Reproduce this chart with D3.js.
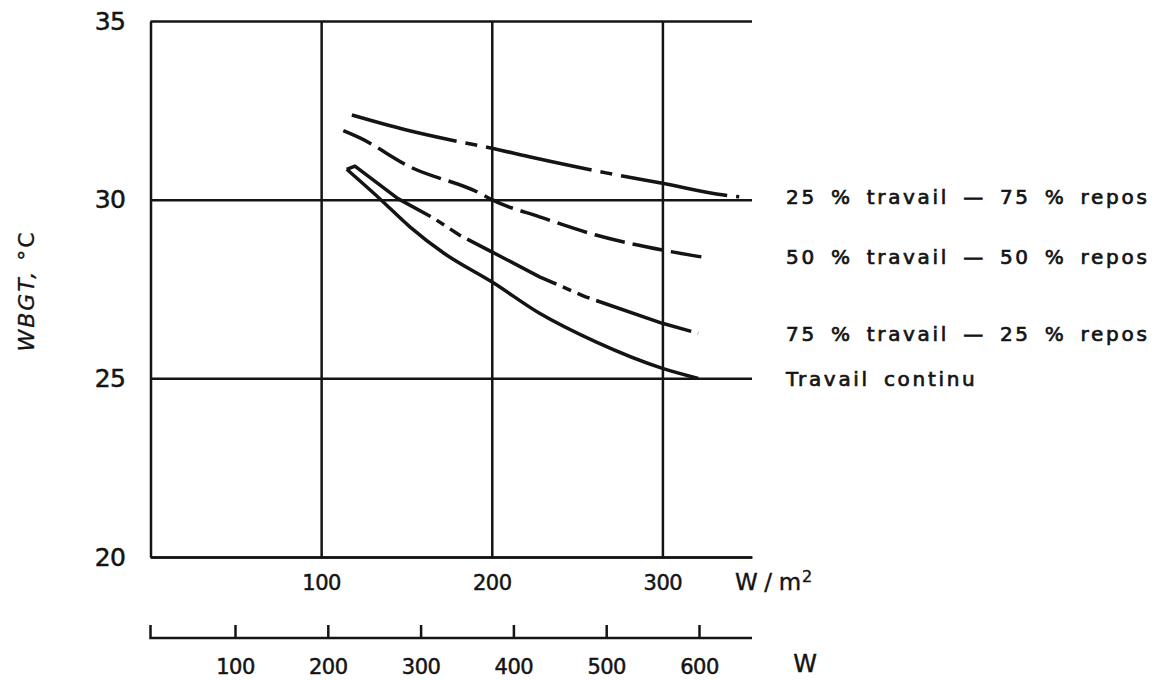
<!DOCTYPE html>
<html>
<head>
<meta charset="utf-8">
<script src="https://cdn.jsdelivr.net/npm/d3@7"></script>
<style>
  body { margin: 0; background: #fff; }
  text { font-family: "DejaVu Sans", sans-serif; fill: #141414; }
</style>
</head>
<body>
<script>
// tick values
var wm2Ticks = [100, 200, 300];
var wattTicks = [100, 200, 300, 400, 500, 600];
var tempTicks = [20, 25, 30, 35];

// series: [W/m2, WBGT degC]
var work25 = [[118, 32.37], [150, 31.95], [178, 31.65], [200, 31.44], [222, 31.2], [267, 30.75], [300, 30.46], [336, 30.13], [345, 30.08]];
var work50 = [[113, 31.93], [123, 31.72], [152, 30.92], [193, 30.18], [200, 30.0], [228, 29.52], [261, 29.01], [300, 28.59], [324, 28.39]];
var work75 = [[115, 30.85], [119.8, 30.94], [145, 30.03], [166, 29.48], [181, 29.01], [200, 28.54], [228, 27.84], [255, 27.28], [300, 26.54], [321, 26.26]];
var workContinuous = [[115, 30.85], [134.5, 30.02], [152, 29.24], [172, 28.5], [200, 27.7], [228, 26.82], [261, 26.02], [300, 25.28], [321, 25.0]];

var seriesLabels = ["25 % travail \u2014 75 % repos", "50 % travail \u2014 50 % repos",
    "75 % travail \u2014 25 % repos", "Travail continu"];

var svgWidth = 1156;
var svgHeight = 680;

var svg = d3.select("body")
    .append("svg")
    .attr("width", svgWidth)
    .attr("height", svgHeight);

svg.append("rect").attr("width", svgWidth).attr("height", svgHeight).attr("fill", "#fff");

// scales in page pixels
var xScale = d3.scaleLinear().domain([0, 352.5]).range([150.5, 752]);
var yScale = d3.scaleLinear().domain([20, 35]).range([557, 21]);
var wattScale = d3.scaleLinear().domain([100, 600]).range([235, 699]);

var ink = "#141414";

// W/m2 axis + vertical grid
var xAxis = d3.axisBottom(xScale)
    .tickValues(wm2Ticks)
    .tickSizeInner(-(yScale(20) - yScale(35)))
    .tickSizeOuter(0)
    .tickPadding(18);

var gx = svg.append("g")
    .attr("transform", `translate(0, ${yScale(20)})`)
    .call(xAxis);

// temperature axis + horizontal grid
var yAxis = d3.axisLeft(yScale)
    .tickValues(tempTicks)
    .tickSizeInner(-(xScale(352.5) - xScale(0)))
    .tickSizeOuter(0)
    .tickPadding(25);

var gy = svg.append("g")
    .attr("transform", `translate(${xScale(0)}, 0)`)
    .call(yAxis);

// W axis
var wAxis = d3.axisBottom(wattScale)
    .tickValues(wattTicks)
    .tickSizeInner(-13)
    .tickSizeOuter(0)
    .tickPadding(21);

var gw = svg.append("g")
    .attr("transform", "translate(0, 638)")
    .call(wAxis);

// stretch the W axis line to the plot width, with the upturned left end
gw.select(".domain").attr("d", `M${xScale(0)},-13V0H${xScale(352.5)}`);

[gx, gy, gw].forEach(function (g) {
    g.selectAll("path, line")
        .attr("stroke", ink)
        .attr("stroke-width", 2.5)
        .attr("fill", "none");
    g.selectAll("text")
        .attr("fill", ink)
        .attr("stroke", ink)
        .attr("stroke-width", 0.5)
        .attr("font-family", "DejaVu Sans, sans-serif");
});

gx.selectAll("text").attr("font-size", 21).attr("letter-spacing", -0.5);
gy.selectAll("text").attr("font-size", 25).attr("letter-spacing", -0.5);
gw.selectAll("text").attr("font-size", 21).attr("letter-spacing", -0.5);

// axis units
var unit = svg.append("text")
    .attr("x", 735)
    .attr("y", 590)
    .attr("font-size", 23)
    .attr("letter-spacing", 1)
    .attr("stroke", ink)
    .attr("stroke-width", 0.4)
    .text("W\u2009/\u2009m");
unit.append("tspan")
    .attr("dy", -8)
    .attr("font-size", 16)
    .text("2");

svg.append("text")
    .attr("x", 805)
    .attr("y", 672)
    .attr("text-anchor", "middle")
    .attr("font-size", 24)
    .attr("stroke", ink)
    .attr("stroke-width", 0.4)
    .text("W");

// y label
var yLabel = svg.append("text")
    .attr("transform", "translate(34, 291) rotate(-90)")
    .attr("text-anchor", "middle")
    .attr("font-size", 22)
    .attr("letter-spacing", 2)
    .attr("stroke", ink)
    .attr("stroke-width", 0.3);
yLabel.append("tspan").attr("font-style", "italic").text("WBGT,");
yLabel.append("tspan").text(" \u00b0C");

// curves
var smooth = d3.line()
    .x(d => xScale(d[0]))
    .y(d => yScale(d[1]))
    .curve(d3.curveMonotoneX);

var straight = d3.line()
    .x(d => xScale(d[0]))
    .y(d => yScale(d[1]));

var series = [work25, work50, work75, workContinuous];
var dashes = ["108,9,12,9", "31,8", "100,7,9,7,13,7", null];

series.forEach(function (data, i) {
    svg.append("path")
        .datum(data)
        .attr("d", data === work75 ? straight : smooth)
        .attr("fill", "none")
        .attr("stroke", ink)
        .attr("stroke-width", 3.5)
        .attr("stroke-linejoin", "round")
        .attr("stroke-dasharray", dashes[i]);
});

// series labels at the level where each curve ends
svg.selectAll(".seriesLabel")
    .data(series)
    .enter()
    .append("text")
    .attr("class", "seriesLabel")
    .attr("x", 786)
    .attr("y", d => yScale(d[d.length - 1][1]))
    .attr("dy", "0.36em")
    .attr("font-size", 20)
    .attr("letter-spacing", 2.7)
    .attr("word-spacing", 5)
    .attr("stroke", ink)
    .attr("stroke-width", 0.7)
    .text((d, i) => seriesLabels[i]);
</script>
</body>
</html>
